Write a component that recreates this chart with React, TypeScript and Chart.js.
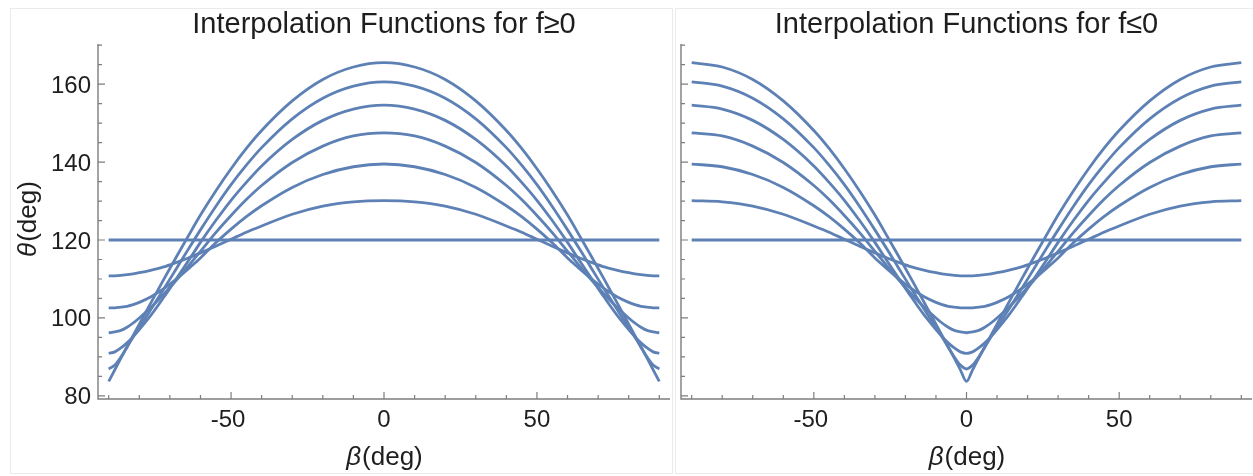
import React, { useEffect, useRef } from "react";
import { Chart, registerables } from "chart.js";
Chart.register(...registerables);

// ---------- data ----------
const betaLeft = [-90, -88, -86, -84, -82, -80, -76, -72, -68, -64, -60, -55, -50, -45, -40, -30, -20, -10, 0, 10, 20, 30, 40, 45, 50, 55, 60, 64, 68, 72, 76, 80, 82, 84, 86, 88, 90];
const betaRight = [-90, -80, -70, -60, -50, -45, -40, -35, -30, -26, -22, -18, -14, -10, -8, -6, -4, -2, 0, 2, 4, 6, 8, 10, 14, 18, 22, 26, 30, 35, 40, 45, 50, 60, 70, 80, 90];
const betaFlat = [-90, 90];
const thetaFlat = [120, 120];

// f >= 0 panel
const pos1 = [83.7, 86.7, 89.7, 92.6, 95.5, 98.4, 104.2, 109.9, 115.5, 121.0, 126.4, 132.6, 138.3, 143.5, 148.1, 155.7, 161.2, 164.4, 165.5, 164.4, 161.2, 155.7, 148.1, 143.5, 138.3, 132.6, 126.4, 121.0, 115.5, 109.9, 104.2, 98.4, 95.5, 92.6, 89.7, 86.7, 83.7];
const pos2 = [86.9, 87.9, 90.0, 92.5, 95.1, 97.6, 102.4, 107.4, 112.5, 117.6, 122.6, 128.6, 134.2, 139.2, 143.7, 151.1, 156.4, 159.5, 160.6, 159.5, 156.4, 151.1, 143.7, 139.2, 134.2, 128.6, 122.6, 117.6, 112.5, 107.4, 102.4, 97.6, 95.1, 92.5, 90.0, 87.9, 86.9];
const pos3 = [90.9, 91.3, 92.3, 93.6, 95.2, 97.0, 100.9, 105.3, 109.9, 114.6, 119.4, 125.0, 130.2, 134.8, 139.0, 145.8, 150.7, 153.6, 154.6, 153.6, 150.7, 145.8, 139.0, 134.8, 130.2, 125.0, 119.4, 114.6, 109.9, 105.3, 100.9, 97.0, 95.2, 93.6, 92.3, 91.3, 90.9];
const pos4 = [96.2, 96.4, 96.8, 97.6, 98.7, 100.0, 102.9, 106.1, 109.6, 113.3, 117.1, 121.9, 126.3, 130.4, 134.0, 139.9, 144.1, 146.7, 147.5, 146.7, 144.1, 139.9, 134.0, 130.4, 126.3, 121.9, 117.1, 113.3, 109.6, 106.1, 102.9, 100.0, 98.7, 97.6, 96.8, 96.4, 96.2];
const pos5 = [102.6, 102.6, 102.8, 103.0, 103.4, 104.0, 105.5, 107.5, 109.9, 112.6, 115.4, 119.3, 122.8, 126.0, 128.8, 133.5, 136.8, 138.8, 139.5, 138.8, 136.8, 133.5, 128.8, 126.0, 122.8, 119.3, 115.4, 112.6, 109.9, 107.5, 105.5, 104.0, 103.4, 103.0, 102.8, 102.6, 102.6];
const pos6 = [110.8, 110.8, 110.9, 111.1, 111.3, 111.6, 112.3, 113.1, 114.2, 115.4, 116.7, 118.4, 120.2, 122.0, 123.6, 126.6, 128.7, 129.8, 130.1, 129.8, 128.7, 126.6, 123.6, 122.0, 120.2, 118.4, 116.7, 115.4, 114.2, 113.1, 112.3, 111.6, 111.3, 111.1, 110.9, 110.8, 110.8];

// f <= 0 panel
const neg1 = [165.5, 164.4, 161.2, 155.7, 148.1, 143.5, 138.3, 132.6, 126.4, 121.0, 115.5, 109.9, 104.2, 98.4, 95.5, 92.6, 89.7, 86.7, 83.7, 86.7, 89.7, 92.6, 95.5, 98.4, 104.2, 109.9, 115.5, 121.0, 126.4, 132.6, 138.3, 143.5, 148.1, 155.7, 161.2, 164.4, 165.5];
const neg2 = [160.6, 159.5, 156.4, 151.1, 143.7, 139.2, 134.2, 128.6, 122.6, 117.6, 112.5, 107.4, 102.4, 97.6, 95.1, 92.5, 90.0, 87.9, 86.9, 87.9, 90.0, 92.5, 95.1, 97.6, 102.4, 107.4, 112.5, 117.6, 122.6, 128.6, 134.2, 139.2, 143.7, 151.1, 156.4, 159.5, 160.6];
const neg3 = [154.6, 153.6, 150.7, 145.8, 139.0, 134.8, 130.2, 125.0, 119.4, 114.6, 109.9, 105.3, 100.9, 97.0, 95.2, 93.6, 92.3, 91.3, 90.9, 91.3, 92.3, 93.6, 95.2, 97.0, 100.9, 105.3, 109.9, 114.6, 119.4, 125.0, 130.2, 134.8, 139.0, 145.8, 150.7, 153.6, 154.6];
const neg4 = [147.5, 146.7, 144.1, 139.9, 134.0, 130.4, 126.3, 121.9, 117.1, 113.3, 109.6, 106.1, 102.9, 100.0, 98.7, 97.6, 96.8, 96.4, 96.2, 96.4, 96.8, 97.6, 98.7, 100.0, 102.9, 106.1, 109.6, 113.3, 117.1, 121.9, 126.3, 130.4, 134.0, 139.9, 144.1, 146.7, 147.5];
const neg5 = [139.5, 138.8, 136.8, 133.5, 128.8, 126.0, 122.8, 119.3, 115.4, 112.6, 109.9, 107.5, 105.5, 104.0, 103.4, 103.0, 102.8, 102.6, 102.6, 102.6, 102.8, 103.0, 103.4, 104.0, 105.5, 107.5, 109.9, 112.6, 115.4, 119.3, 122.8, 126.0, 128.8, 133.5, 136.8, 138.8, 139.5];
const neg6 = [130.1, 129.8, 128.7, 126.6, 123.6, 122.0, 120.2, 118.4, 116.7, 115.4, 114.2, 113.1, 112.3, 111.6, 111.3, 111.1, 110.9, 110.8, 110.8, 110.8, 110.9, 111.1, 111.3, 111.6, 112.3, 113.1, 114.2, 115.4, 116.7, 118.4, 120.2, 122.0, 123.6, 126.6, 128.7, 129.8, 130.1];

const yMajorTicks = [80, 100, 120, 140, 160];
const yMinorTicks = [85, 90, 95, 105, 110, 115, 125, 130, 135, 145, 150, 155, 165, 170];
const xMajorTicks = [-50, 0, 50];
const xMinorTicks = [-90, -80, -70, -60, -40, -30, -20, -10, 10, 20, 30, 40, 60, 70, 80, 90];

const titleLeft = "Interpolation Functions for f≥0";
const titleRight = "Interpolation Functions for f≤0";
const yAxisGreek = "θ";
const xAxisGreek = "β";
const axisUnit = "(deg)";

// ---------- styles ----------
const LINE_COLOR = "#5E81B5";
const AXIS_COLOR = "#7d7d7d";
const TEXT_COLOR = "#1e1e1e";
const FONT = '"Liberation Sans", Arial, sans-serif';

function decorPlugin(title: string, showYLabels: boolean, frame: number[]) {
  return {
    id: "mmaDecor",
    beforeDraw(chart: any) {
      const { ctx, width, height } = chart;
      ctx.save();
      ctx.fillStyle = "#ffffff";
      ctx.fillRect(0, 0, width, height);
      ctx.strokeStyle = "#ebebeb";
      ctx.lineWidth = 1;
      ctx.strokeRect(frame[0], frame[1], frame[2], frame[3]);
      ctx.restore();
    },
    afterDraw(chart: any) {
      const { ctx, chartArea: ca } = chart;
      const xs = chart.scales.x;
      const ys = chart.scales.y;
      ctx.save();
      // axes
      ctx.strokeStyle = AXIS_COLOR;
      ctx.lineWidth = 1.4;
      ctx.beginPath();
      ctx.moveTo(ca.left, ca.top);
      ctx.lineTo(ca.left, ca.bottom);
      ctx.lineTo(ca.right, ca.bottom);
      ctx.stroke();
      // ticks (inward)
      ctx.lineWidth = 1.2;
      ctx.beginPath();
      yMajorTicks.forEach((v) => {
        const p = ys.getPixelForValue(v);
        ctx.moveTo(ca.left, p);
        ctx.lineTo(ca.left + 7, p);
      });
      yMinorTicks.forEach((v) => {
        const p = ys.getPixelForValue(v);
        ctx.moveTo(ca.left, p);
        ctx.lineTo(ca.left + 4, p);
      });
      xMajorTicks.forEach((v) => {
        const p = xs.getPixelForValue(v);
        ctx.moveTo(p, ca.bottom);
        ctx.lineTo(p, ca.bottom - 7);
      });
      xMinorTicks.forEach((v) => {
        const p = xs.getPixelForValue(v);
        ctx.moveTo(p, ca.bottom);
        ctx.lineTo(p, ca.bottom - 4);
      });
      ctx.stroke();

      // tick labels
      ctx.fillStyle = TEXT_COLOR;
      ctx.font = `24px ${FONT}`;
      ctx.textBaseline = "alphabetic";
      if (showYLabels) {
        ctx.textAlign = "right";
        yMajorTicks.forEach((v) => {
          const p = ys.getPixelForValue(v);
          ctx.fillText(String(v), ca.left - 7, p + 8.5);
        });
      }
      ctx.textAlign = "center";
      xMajorTicks.forEach((v) => {
        const p = xs.getPixelForValue(v);
        ctx.fillText(String(v), p - (v < 0 ? 3 : 0), ca.bottom + 28);
      });

      // title
      ctx.font = `29px ${FONT}`;
      ctx.textAlign = "center";
      ctx.fillText(title, (ca.left + ca.right) / 2, 33);

      // x axis label
      {
        ctx.font = `italic 26px ${FONT}`;
        const w1 = ctx.measureText(xAxisGreek).width;
        ctx.font = `26px ${FONT}`;
        const w2 = ctx.measureText(axisUnit).width;
        const cx = (ca.left + ca.right) / 2;
        const start = cx - (w1 + w2) / 2;
        ctx.textAlign = "left";
        ctx.font = `italic 26px ${FONT}`;
        ctx.fillText(xAxisGreek, start, 465);
        ctx.font = `26px ${FONT}`;
        ctx.fillText(axisUnit, start + w1 + 1, 465);
      }
      // y axis label (rotated)
      if (showYLabels) {
        ctx.font = `italic 26px ${FONT}`;
        const w1 = ctx.measureText(yAxisGreek).width;
        ctx.font = `26px ${FONT}`;
        const w2 = ctx.measureText(axisUnit).width;
        ctx.save();
        ctx.translate(36, (ca.top + ca.bottom) / 2 - 2);
        ctx.rotate(-Math.PI / 2);
        const start = -(w1 + w2) / 2;
        ctx.textAlign = "left";
        ctx.font = `italic 26px ${FONT}`;
        ctx.fillText(yAxisGreek, start, 0);
        ctx.font = `26px ${FONT}`;
        ctx.fillText(axisUnit, start + w1 + 1, 0);
        ctx.restore();
      }
      ctx.restore();
    },
  };
}

function toPoints(xs: number[], ys: number[]) {
  return xs.map((x, i) => ({ x, y: ys[i] }));
}

function makeConfig(betas: number[], series: number[][], title: string, showY: boolean, padding: any, frame: number[]) {
  const datasets: any[] = series.map((s) => ({
    data: toPoints(betas, s),
    borderColor: LINE_COLOR,
    borderWidth: 2.8,
    pointRadius: 0,
    showLine: true,
    cubicInterpolationMode: "monotone",
    fill: false,
  }));
  datasets.push({
    data: toPoints(betaFlat, thetaFlat),
    borderColor: LINE_COLOR,
    borderWidth: 2.8,
    pointRadius: 0,
    showLine: true,
    fill: false,
  });
  return {
    type: "scatter",
    data: { datasets },
    options: {
      animation: false,
      responsive: false,
      devicePixelRatio: 1,
      layout: { padding },
      plugins: { legend: { display: false }, tooltip: { enabled: false }, title: { display: false } },
      scales: {
        x: { type: "linear", min: -93.5, max: 93.5, display: false },
        y: { type: "linear", min: 79.2, max: 170.3, display: false },
      },
    },
    plugins: [decorPlugin(title, showY, frame)],
  };
}

function Panel(props: { left: number; width: number; cfg: () => any }) {
  const ref = useRef<HTMLCanvasElement | null>(null);
  useEffect(() => {
    if (!ref.current) return;
    const chart = new Chart(ref.current, props.cfg());
    return () => chart.destroy();
  }, []);
  return (
    <canvas
      ref={ref}
      width={props.width}
      height={476}
      style={{ position: "absolute", left: props.left, top: 0, width: props.width, height: 476 }}
    />
  );
}

export default function App() {
  return (
    <div style={{ position: "fixed", left: 0, top: 0, width: 1253, height: 476, background: "#fff" }}>
      <Panel
        left={0}
        width={674}
        cfg={() =>
          makeConfig(betaLeft, [pos1, pos2, pos3, pos4, pos5, pos6], titleLeft, true, { left: 98, right: 4, top: 44, bottom: 77 }, [10.5, 8.5, 662, 465])
        }
      />
      <Panel
        left={674}
        width={579}
        cfg={() =>
          makeConfig(betaRight, [neg1, neg2, neg3, neg4, neg5, neg6], titleRight, false, { left: 7, right: 1, top: 44, bottom: 77 }, [1.5, 8.5, 600, 465])
        }
      />
    </div>
  );
}
